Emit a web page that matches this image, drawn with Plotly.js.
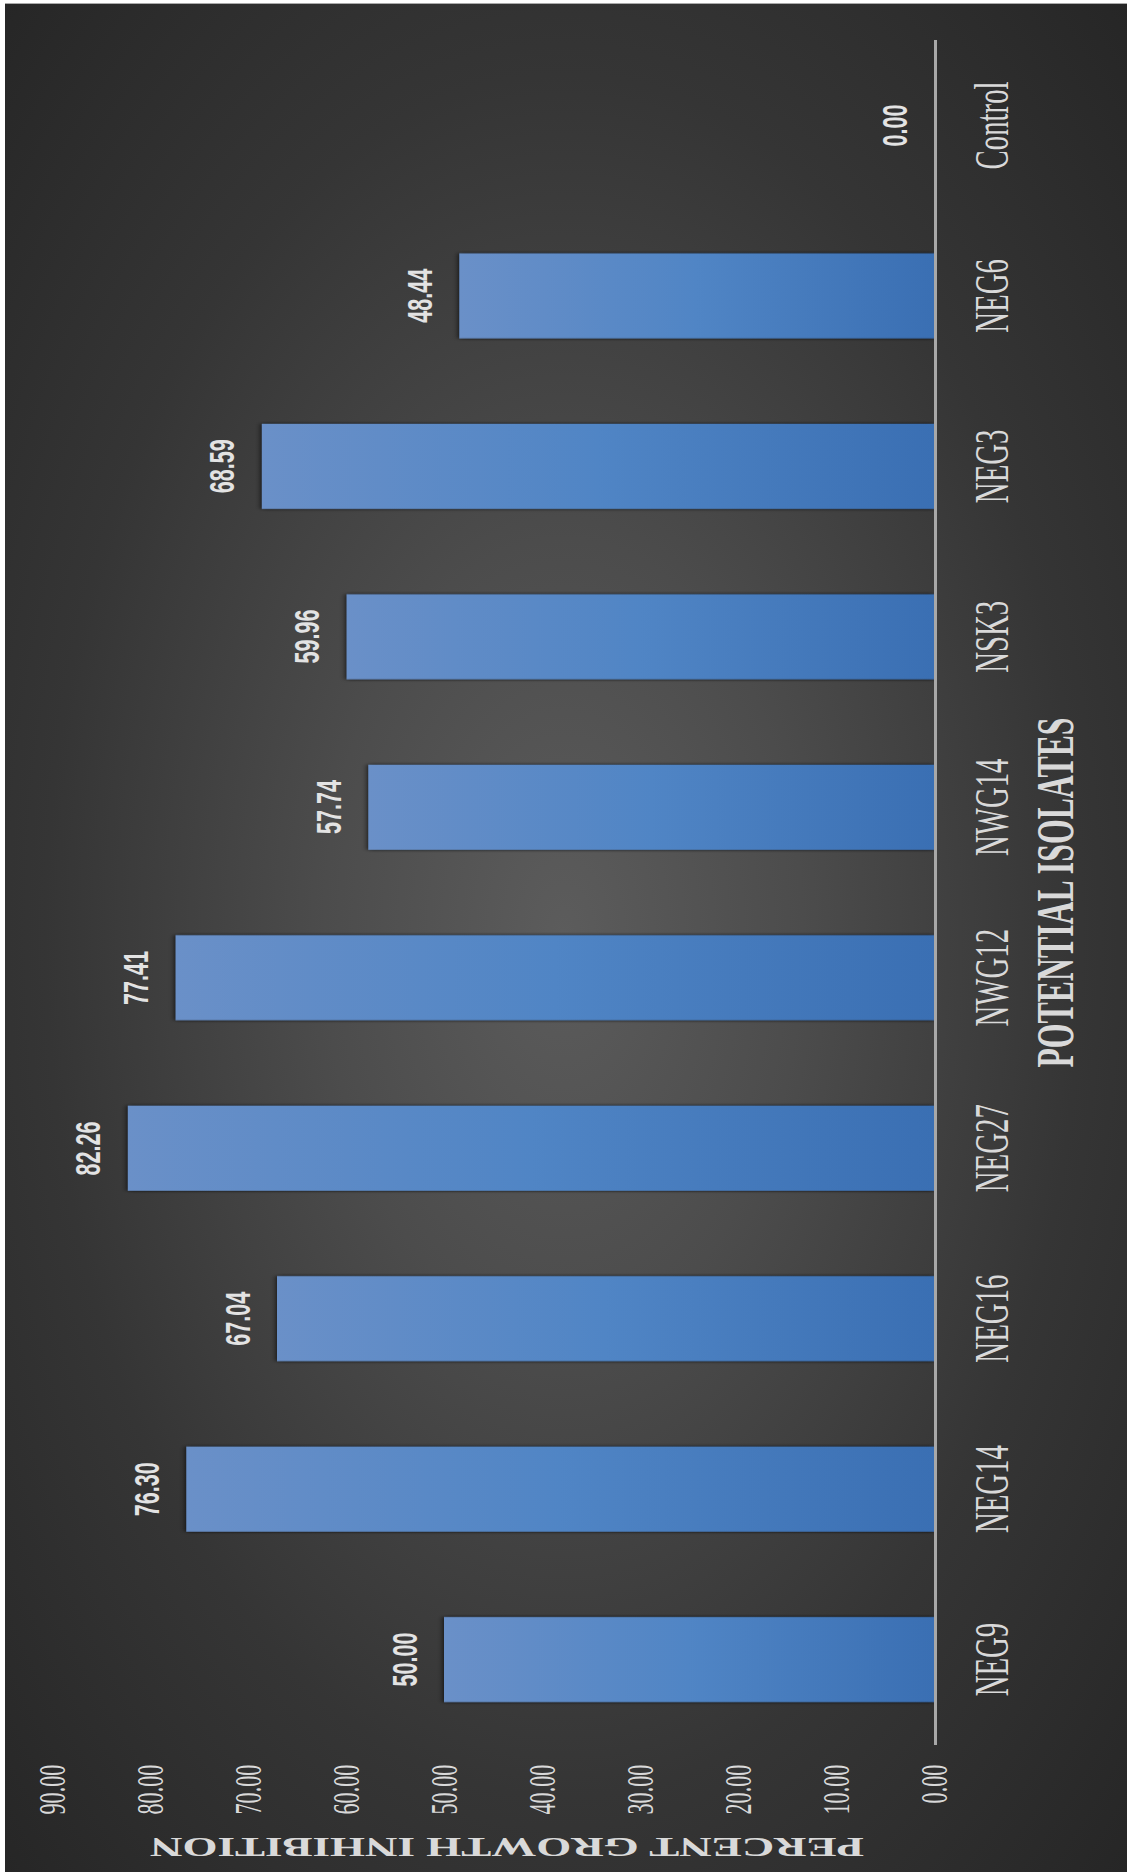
<!DOCTYPE html>
<html><head><meta charset="utf-8">
<script src="https://cdn.plot.ly/plotly-3.0.1.min.js"></script>
<style>
html,body{margin:0;padding:0;background:#fff;}
#wrap{position:relative;width:1127px;height:1872px;overflow:hidden;
 background: radial-gradient(ellipse farthest-corner at 50% 50%, #5c5c5c 0%, #4c4c4c 30%, #353535 65%, #262626 100%);}
#chart{position:absolute;left:0;top:0;width:3120px;height:1127px;transform-origin:0 0;transform:translateY(1872px) rotate(-90deg) scaleX(0.6);}
#bt{position:absolute;left:0;top:0;width:1127px;height:3px;background:#fff;border-bottom:1px solid #aaa;}
#bl{position:absolute;left:0;top:0;width:5px;height:1872px;background:#fff;}
#chart .bars path{filter:drop-shadow(0 0 3px rgba(0,0,0,0.9));}
</style></head><body>
<div id="wrap"><div id="chart"></div><div id="bt"></div><div id="bl"></div></div>
<script>
const categories = ['NEG9','NEG14','NEG16','NEG27','NWG12','NWG14','NSK3','NEG3','NEG6','Control'];
const inhibition = [50.00, 76.30, 67.04, 82.26, 77.41, 57.74, 59.96, 68.59, 48.44, 0.00];
const valueTicks = [0, 10, 20, 30, 40, 50, 60, 70, 80, 90];
const xTitle = 'POTENTIAL ISOLATES';
const yTitle = 'PERCENT GROWTH INHIBITION';

const serif = 'Liberation Serif, Times New Roman, serif';
const sans = 'Liberation Sans, Arial, sans-serif';
const textCol = '#d9d9d9';

const trace = {
  type: 'bar', x: categories, y: inhibition,
  marker: {color: '#4f83c3'}, hoverinfo: 'none'
};
const annotations = categories.map((c, i) => ({
  x: c, y: inhibition[i], xref: 'x', yref: 'y',
  text: inhibition[i].toFixed(2), showarrow: false,
  yanchor: 'middle', yshift: 40,
  font: {family: sans, size: 36, color: '#e3e3e3', weight: 'bold'}
}));
annotations.push({
  text: yTitle, xref: 'paper', yref: 'paper', x: -0.0598, y: 0.484,
  xanchor: 'center', yanchor: 'middle', textangle: -90, showarrow: false,
  font: {family: serif, size: 45, color: textCol, weight: 'bold'}
});
const layout = {
  width: 3120, height: 1127,
  margin: {l: 212, r: 67, t: 52, b: 193},
  paper_bgcolor: 'rgba(0,0,0,0)', plot_bgcolor: 'rgba(0,0,0,0)',
  showlegend: false, bargap: 0.5,
  xaxis: {
    type: 'category', showline: true, linecolor: '#a8a8a8', linewidth: 3,
    ticks: '', showgrid: false, zeroline: false, automargin: false,
    tickfont: {family: serif, size: 48, color: textCol},
    ticklabelstandoff: 13,
    title: {text: xTitle, standoff: 20,
      font: {family: serif, size: 53, color: textCol, weight: 'bold'}}
  },
  yaxis: {
    range: [0, 90], tickvals: valueTicks, tickformat: '.2f',
    showline: false, showgrid: false, zeroline: false, ticks: '', automargin: false,
    tickfont: {family: serif, size: 37, color: textCol},
    ticklabelstandoff: 32
  },
  annotations: annotations
};
Plotly.newPlot('chart', [trace], layout, {staticPlot: true, displayModeBar: false}).then(gd => {
  const svg = gd.querySelector('svg.main-svg');
  const ns = 'http://www.w3.org/2000/svg';
  let defs = svg.querySelector('defs');
  if (!defs) { defs = document.createElementNS(ns, 'defs'); svg.insertBefore(defs, svg.firstChild); }
  const lg = document.createElementNS(ns, 'linearGradient');
  lg.setAttribute('id', 'barGrad');
  lg.setAttribute('x1', '0'); lg.setAttribute('y1', '0');
  lg.setAttribute('x2', '0'); lg.setAttribute('y2', '1');
  [['0', '#6a90c8'], ['0.5', '#5085c5'], ['1', '#3a6fb3']].forEach(([o, c]) => {
    const s = document.createElementNS(ns, 'stop');
    s.setAttribute('offset', o); s.setAttribute('stop-color', c);
    lg.appendChild(s);
  });
  defs.appendChild(lg);
  gd.querySelectorAll('.bars .point path').forEach(p => { p.style.fill = 'url(#barGrad)'; });
});
</script>
</body></html>
